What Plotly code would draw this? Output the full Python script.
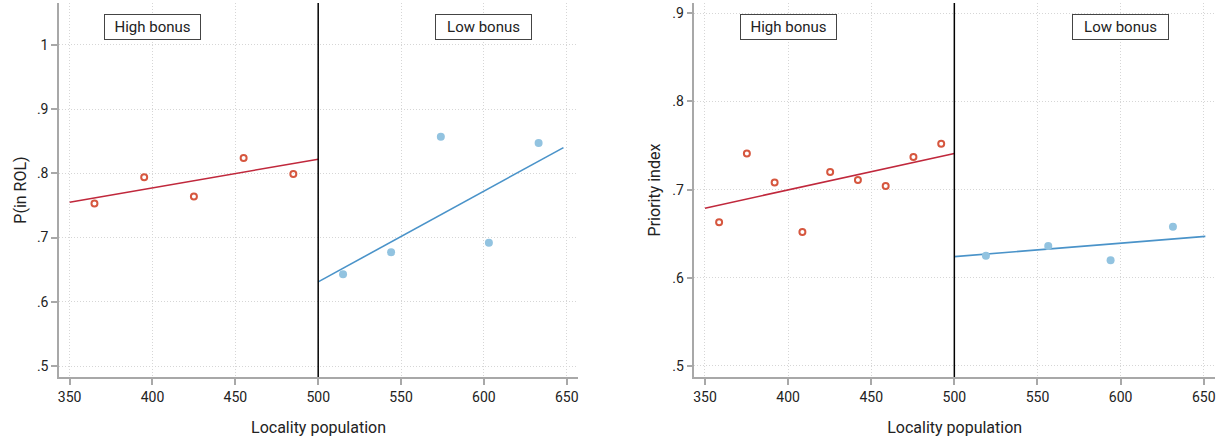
import plotly.graph_objects as go

# ---------------- data ----------------
cutoff = 500

# Left panel: P(in ROL)
left_high_x = [365, 395, 425, 455, 485]
left_high_y = [0.753, 0.794, 0.764, 0.824, 0.799]
left_low_x = [515, 544, 574, 603, 633]
left_low_y = [0.643, 0.677, 0.857, 0.692, 0.847]
left_high_fit_x = [350, 500]
left_high_fit_y = [0.755, 0.822]
left_low_fit_x = [500, 648]
left_low_fit_y = [0.631, 0.840]

# Right panel: Priority index
right_high_x = [358.5, 375.2, 391.9, 408.6, 425.3, 442.0, 458.7, 475.4, 492.1]
right_high_y = [0.663, 0.741, 0.708, 0.652, 0.720, 0.711, 0.704, 0.737, 0.752]
right_low_x = [519, 556.5, 594, 631.5]
right_low_y = [0.625, 0.636, 0.620, 0.658]
right_high_fit_x = [350, 500]
right_high_fit_y = [0.679, 0.741]
right_low_fit_x = [500, 651]
right_low_fit_y = [0.624, 0.647]

x_ticks = [350, 400, 450, 500, 550, 600, 650]
left_y_ticks = [0.5, 0.6, 0.7, 0.8, 0.9, 1.0]
left_y_labels = [".5", ".6", ".7", ".8", ".9", "1"]
right_y_ticks = [0.5, 0.6, 0.7, 0.8, 0.9]
right_y_labels = [".5", ".6", ".7", ".8", ".9"]
group_labels = ["High bonus", "Low bonus"]
group_label_x = [400, 600]

# ---------------- style ----------------
FONT = "Roboto, Liberation Sans, sans-serif"
RED_PT = "#d6573f"
RED_LN = "#c0283c"
BLUE_PT = "#92c3e0"
BLUE_LN = "#4a93c9"
AXIS_C = "#a8a8a8"
GRID_C = "#d6d6d6"

fig = go.Figure()

def add_panel(xa, ya, hx, hy, lx, ly, hfx, hfy, lfx, lfy):
    fig.add_trace(go.Scatter(x=hfx, y=hfy, mode="lines", xaxis=xa, yaxis=ya,
                             line=dict(color=RED_LN, width=1.6), showlegend=False))
    fig.add_trace(go.Scatter(x=lfx, y=lfy, mode="lines", xaxis=xa, yaxis=ya,
                             line=dict(color=BLUE_LN, width=1.6), showlegend=False))
    fig.add_trace(go.Scatter(x=hx, y=hy, mode="markers", xaxis=xa, yaxis=ya,
                             marker=dict(symbol="circle-open", size=6, color=RED_PT,
                                         line=dict(width=2, color=RED_PT)),
                             showlegend=False))
    fig.add_trace(go.Scatter(x=lx, y=ly, mode="markers", xaxis=xa, yaxis=ya,
                             marker=dict(symbol="circle", size=8, color=BLUE_PT),
                             showlegend=False))

add_panel("x", "y", left_high_x, left_high_y, left_low_x, left_low_y,
          left_high_fit_x, left_high_fit_y, left_low_fit_x, left_low_fit_y)
add_panel("x2", "y2", right_high_x, right_high_y, right_low_x, right_low_y,
          right_high_fit_x, right_high_fit_y, right_low_fit_x, right_low_fit_y)

common_x = dict(
    range=[343.6, 656.8], tickmode="array", tickvals=x_ticks,
    ticks="outside", ticklen=6, tickcolor=AXIS_C, tickwidth=1.5,
    showline=True, linecolor=AXIS_C, linewidth=1.5,
    showgrid=True, gridcolor=GRID_C, griddash="1px,2px", gridwidth=1,
    zeroline=False, tickfont=dict(family=FONT, size=14, color="#222"),
    automargin=False,
    title=dict(text="Locality population", font=dict(family=FONT, size=16, color="#222"),
               standoff=18),
)
common_y = dict(
    ticks="outside", ticklen=6, tickcolor=AXIS_C, tickwidth=1.5,
    showline=True, linecolor=AXIS_C, linewidth=1.5,
    showgrid=True, gridcolor=GRID_C, griddash="1px,2px", gridwidth=1,
    zeroline=False, tickfont=dict(family=FONT, size=14, color="#222"),
    automargin=False,
)

fig.update_layout(
    width=1221, height=443,
    margin=dict(l=59, r=6, t=3, b=66),
    paper_bgcolor="white", plot_bgcolor="white",
    font=dict(family=FONT, color="#222"),
    xaxis=dict(domain=[0, 0.449], anchor="y", **common_x),
    xaxis2=dict(domain=[0.5496, 1], anchor="y2", **common_x),
    yaxis=dict(domain=[0, 1], anchor="x", range=[0.4829, 1.0651],
               tickmode="array", tickvals=left_y_ticks, ticktext=left_y_labels,
               title=dict(text="P(in ROL)", font=dict(family=FONT, size=16, color="#222"),
                          standoff=6),
               **common_y),
    yaxis2=dict(domain=[0, 1], anchor="x2", range=[0.4875, 0.9117],
                tickmode="array", tickvals=right_y_ticks, ticktext=right_y_labels,
                title=dict(text="Priority index", font=dict(family=FONT, size=16, color="#222"),
                           standoff=8),
                **common_y),
)

# cutoff lines
for xr, yr in [("x", "y domain"), ("x2", "y2 domain")]:
    fig.add_shape(type="line", xref=xr, yref=yr, x0=cutoff, x1=cutoff, y0=0, y1=1,
                  line=dict(color="black", width=1.5))

# group boxes
for xr, yr in [("x", "y domain"), ("x2", "y2 domain")]:
    for lab, gx in zip(group_labels, group_label_x):
        fig.add_annotation(x=gx, y=0.937, xref=xr, yref=yr, text=lab, showarrow=False,
                           xanchor="center", yanchor="middle",
                           width=93, height=22, borderpad=1, borderwidth=1,
                           bordercolor="#444", bgcolor="white",
                           font=dict(family=FONT, size=15, color="#222"))

fig.write_html("out.html", config={"displayModeBar": False},
               post_script="document.body.style.margin='0';document.body.style.padding='0';")
